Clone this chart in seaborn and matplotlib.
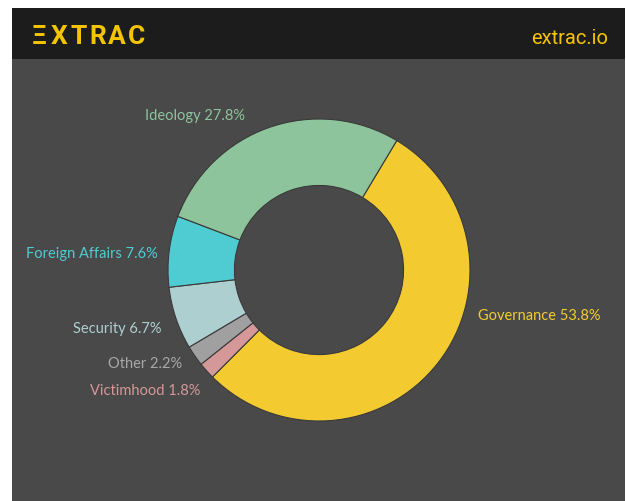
import matplotlib
matplotlib.use("Agg")
import matplotlib.pyplot as plt
import seaborn as sns

categories = ["Governance", "Victimhood", "Other", "Security", "Foreign Affairs", "Ideology"]
values = [53.8, 1.8, 2.2, 6.7, 7.6, 27.8]
colors = ["#F3CB30", "#D49898", "#A0A0A0", "#AECFD0", "#4ECCD2", "#8DC49B"]
label_colors = ["#F3CB30", "#D49898", "#A8A8A8", "#AECFD0", "#4ECCD2", "#8DC49B"]
logo_letters = ["Ξ", "X", "T", "R", "A", "C"]

sns.set_theme(style="white")
plt.rcParams['font.family'] = ['Lato', 'DejaVu Sans']

W, H = 626, 502
fig = plt.figure(figsize=(W / 100, H / 100), dpi=100)
fig.patch.set_facecolor("white")

# background panels
bg = fig.add_axes([12 / W, 0, (W - 13) / W, 1 - 9 / H])
bg.set_xlim(0, 1); bg.set_ylim(0, 1); bg.axis("off")
body_h = (H - 60) / (H - 9)
bg.add_patch(plt.Rectangle((0, 0), 1, body_h, color="#494949", lw=0))
bg.add_patch(plt.Rectangle((0, body_h), 1, 1 - body_h, color="#1C1C1C", lw=0))

for i, ch in enumerate(logo_letters):
    fig.text((30 + 9.5 + 19.4 * i) / W, 1 - 36.5 / H, ch, color="#F5C400", fontsize=19,
             fontweight="bold", family=["Roboto", "DejaVu Sans"], va="center", ha="center")
fig.text(608 / W, 1 - 39 / H, "extrac.io", color="#F5C400", fontsize=14.5,
         family=["Roboto", "DejaVu Sans"], va="center", ha="right")

cx, cy, r = 319, 271, 151
ax = fig.add_axes([(cx - r) / W, 1 - (cy + r) / H, 2 * r / W, 2 * r / H])
ax.pie(values, colors=colors, startangle=59, counterclock=False, radius=1,
       wedgeprops=dict(width=0.44, edgecolor="#3A3A3A", linewidth=0.8))
ax.set_xlim(-1, 1); ax.set_ylim(-1, 1)
ax.axis("off")

labels = [f"{c} {v}%" for c, v in zip(categories, values)]
pos = {
    "Governance": (478, 316, "left"),
    "Victimhood": (200, 391, "right"),
    "Other": (182, 364, "right"),
    "Security": (162, 329, "right"),
    "Foreign Affairs": (158, 254, "right"),
    "Ideology": (145, 116, "left"),
}
for cat, lab, col in zip(categories, labels, label_colors):
    x, y, ha = pos[cat]
    fig.text(x / W, 1 - y / H, lab, color=col, fontsize=10.5, ha=ha, va="center")

fig.savefig("out.png", dpi=100, facecolor=fig.get_facecolor())
